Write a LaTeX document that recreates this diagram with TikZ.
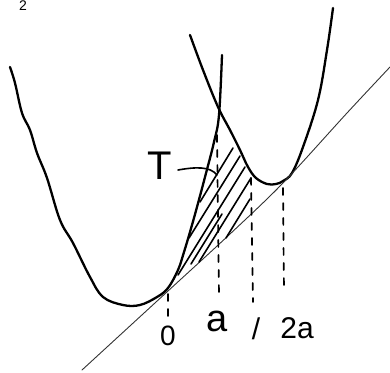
\documentclass[tikz,border=0pt]{standalone}
\usepackage{fontspec}
\setmainfont{Liberation Sans}
\begin{document}
\begin{tikzpicture}[x=1pt,y=-1pt,
  curve/.style={line width=2.3pt,line cap=round,line join=round},
  tline/.style={line width=0.9pt,black!80,line cap=round},
  hatch/.style={line width=1.6pt,line cap=round},
  vdash/.style={line width=1.7pt,line cap=round,dash pattern=on 7pt off 8pt},
  lbl/.style={inner sep=0pt,outer sep=0pt}]
\useasboundingbox (0,0) rectangle (390,372);
\clip (0,0) rectangle (390,372);
% left parabola
\draw[curve] plot[smooth,tension=0.6] coordinates {(10,67) (15,83) (22,113) (30,130) (37,153) (47,178) (60,220) (73,243) (90,277) (103,297) (123,305) (140,305) (157,297) (168,288) (178,270) (184,252) (190,232) (197,207) (205,177) (214,142) (219,115) (222,55)};
% right parabola
\draw[curve] plot[smooth,tension=0.6] coordinates {(190,35) (203,70) (218,107) (230,130) (240,150) (248,167) (256,178) (267,184) (276,184) (283,181) (292,173) (303,147) (318,100) (327,50) (333,8)};
% tangent line
\draw[tline] plot[smooth,tension=0.5] coordinates {(82,370) (168,291) (230,234) (283,183) (347,113) (390,67)};
% hatching
\draw[hatch] (200,202) -- (233,148);
\draw[hatch] (189,238) -- (240,156);
\draw[hatch] (178,275) -- (245,167);
\draw[hatch] (199,262) -- (251,178);
\draw[hatch] (226,238) -- (250,199);
\draw[hatch] (191,264) -- (222,214);
% dashed verticals
\draw[vdash] (168,294) -- (168,318);
\draw[vdash] (217,135) -- (219,296);
\draw[vdash] (251,178) -- (253,302);
\draw[vdash] (283,188) -- (284,292);
% labels
\node[lbl,font=\fontsize{40}{40}\selectfont] (T) at (160,166) {T};
\coordinate (Tend) at (217,175);
\draw[line width=1.6pt,line cap=round] (178,170) .. controls (195,167) and (210,166) .. (Tend);
\node[lbl,font=\fontsize{28}{28}\selectfont] (zero) at (168,336) {0};
\node[lbl,font=\fontsize{38}{38}\selectfont] (a) at (217,321) {a};
\node[lbl,font=\fontsize{30}{30}\selectfont] (slash) at (256,329) {/};
\node[lbl,font=\fontsize{30}{30}\selectfont] (twoa) at (297,328) {2a};
\node[lbl,anchor=north,font=\fontsize{14}{14}\selectfont] (two) at (23,1) {2};
\end{tikzpicture}
\end{document}
